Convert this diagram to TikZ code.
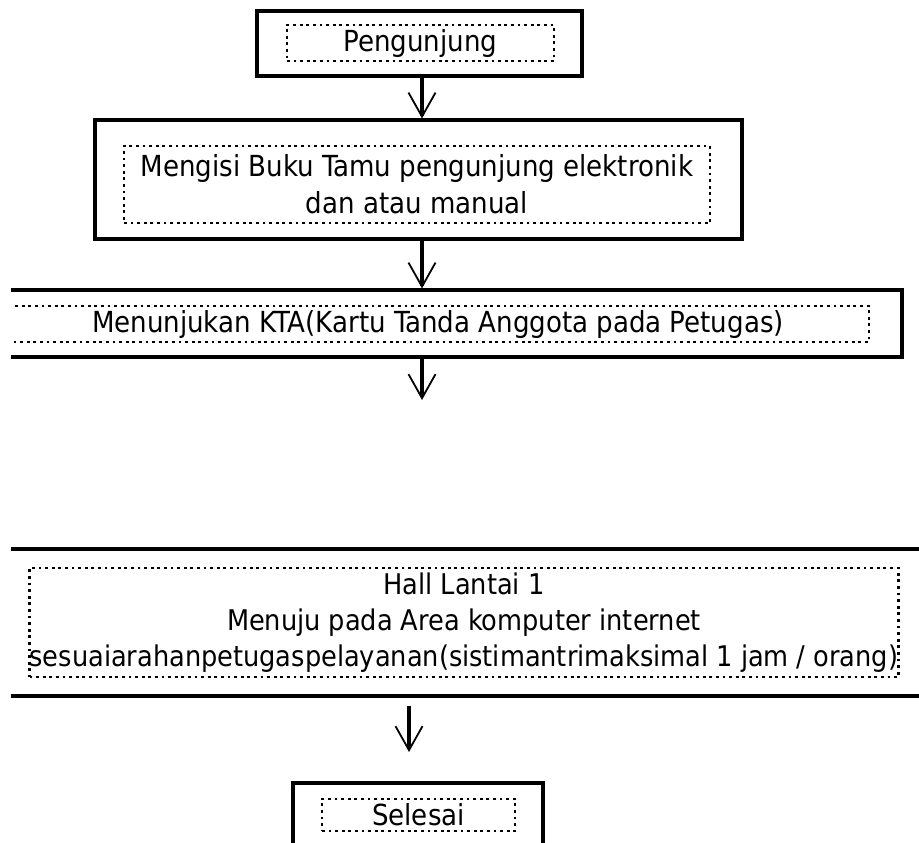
\documentclass[tikz,border=0pt]{standalone}
\usepackage{fontspec}
\setmainfont{DejaVu Sans Condensed}
\usetikzlibrary{arrows.meta}

\begin{document}
\begin{tikzpicture}[x=1pt,y=-1pt,
    kotak/.style={draw,line width=3.1pt,inner sep=0pt},
    isian/.style={draw,line width=2.8pt,dash pattern=on 2.8pt off 3.8pt,inner sep=0pt,
      align=center,font=\fontsize{29}{36}\selectfont},
    panah/.style={line width=3.2pt,-{Straight Barb[length=24pt,width=27pt,line width=1.8pt]}}]

          \useasboundingbox (0,0) rectangle (919,843);
          \clip (11,0) rectangle (919,843);

          \node[kotak,minimum width=325pt,minimum height=65pt] (pengunjung) at (419.5,43.5) {};
          \node[isian,minimum width=267pt,minimum height=36pt] (pengunjung-teks) at (420.5,43) {Pengunjung};

          \node[kotak,minimum width=647pt,minimum height=119pt] (bukutamu) at (418.5,179.5) {};
          \node[isian,minimum width=586pt,minimum height=77pt,font=\fontsize{29}{37}\selectfont]
            (bukutamu-teks) at (417,184.5) {Mengisi Buku Tamu pengunjung elektronik\\dan atau manual};

          \node[kotak,minimum width=928pt,minimum height=67pt] (kta) at (438,323.5) {};
          \node[isian,minimum width=862pt,minimum height=36pt] (kta-teks) at (438,324)
            {Menunjukan KTA(Kartu Tanda Anggota pada Petugas)};

          \node[kotak,minimum width=960pt,minimum height=147pt] (hall) at (464,622.5) {};
          \node[isian,minimum width=868pt,minimum height=109pt,font=\fontsize{28.5}{36}\selectfont]
            (hall-teks) at (464,622.5)
            {Hall Lantai 1\\Menuju pada Area komputer internet\\sesuaiarahanpetugaspelayanan(sistimantrimaksimal 1 jam / orang)};

          \node[kotak,minimum width=250pt,minimum height=64pt] (selesai) at (418,815) {};
          \node[isian,minimum width=193pt,minimum height=32pt] (selesai-teks) at (418.5,815) {Selesai};

          \coordinate (kta-ujung) at (422,400);
          \coordinate (hall-pangkal) at (409,706);
          \coordinate (hall-ujung) at (409,752);

          \draw[panah] ([xshift=2.5pt]pengunjung.south) -- ([xshift=2.5pt]pengunjung.south |- bukutamu.north);
          \draw[panah] ([xshift=3.5pt]bukutamu.south) -- ([xshift=3.5pt]bukutamu.south |- kta.north);
          \draw[panah] (kta.south -| kta-ujung) -- (kta-ujung);
          \draw[panah] (hall-pangkal) -- (hall-ujung);

\end{tikzpicture}
\end{document}
